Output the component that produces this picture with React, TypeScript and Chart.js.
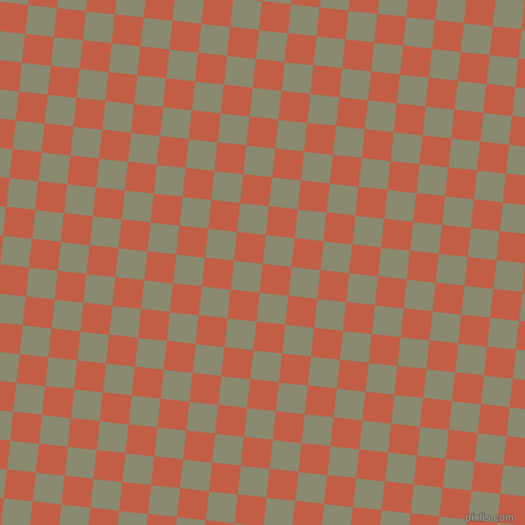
import React, { useEffect, useRef } from "react";
import Chart from "chart.js/auto";

// checkerboard lattice: column / row indices of every cell
const columns = [-2, -1, 0, 1, 2, 3, 4, 5, 6, 7, 8, 9, 10, 11, 12, 13, 14, 15, 16, 17, 18, 19, 20, 21];
const rows = [-4, -3, -2, -1, 0, 1, 2, 3, 4, 5, 6, 7, 8, 9, 10, 11, 12, 13, 14, 15, 16, 17, 18, 19];
// parity 0 = even cells, parity 1 = odd cells
const seriesNames = ["even", "odd"];
const seriesColors = ["#c25e46", "#898a70"];
const tiltDegrees = 6.2;
const watermark = "pixlis.com";

const CELL = 29; // px per lattice unit
const CANVAS = 645;
const OFFSET = 60; // canvas is larger than the view so the tilted grid covers it
const X_MIN = -1.633;
const Y_MIN = -3.666;

const cellsFor = (parity: number) => {
  const pts: { x: number; y: number }[] = [];
  rows.forEach((r) => {
    columns.forEach((c) => {
      if ((((c + r) % 2) + 2) % 2 === parity) pts.push({ x: c, y: r });
    });
  });
  return pts;
};

const tiltPlugin = {
  id: "tilt",
  beforeDraw(chart: any) {
    const { ctx, width, height } = chart;
    ctx.save();
    ctx.fillStyle = seriesColors[1];
    ctx.fillRect(0, 0, width, height);
    ctx.restore();
  },
  beforeDatasetsDraw(chart: any) {
    const { ctx, chartArea } = chart;
    const cx = (chartArea.left + chartArea.right) / 2;
    const cy = (chartArea.top + chartArea.bottom) / 2;
    ctx.save();
    ctx.translate(cx, cy);
    ctx.rotate((tiltDegrees * Math.PI) / 180);
    ctx.translate(-cx, -cy);
  },
  afterDatasetsDraw(chart: any) {
    chart.ctx.restore();
  },
  afterDraw(chart: any) {
    const { ctx } = chart;
    ctx.save();
    ctx.font = "bold 10px 'Liberation Sans Narrow', 'Liberation Sans', sans-serif";
    ctx.textAlign = "right";
    ctx.textBaseline = "alphabetic";
    ctx.lineWidth = 1;
    ctx.strokeStyle = "rgba(60,60,60,0.55)";
    ctx.fillStyle = "rgba(170,170,160,0.7)";
    ctx.strokeText(watermark, OFFSET + 514, OFFSET + 521);
    ctx.fillText(watermark, OFFSET + 514, OFFSET + 521);
    ctx.restore();
  },
};

export default function App() {
  const canvasRef = useRef<HTMLCanvasElement>(null);
  const chartRef = useRef<Chart | null>(null);

  useEffect(() => {
    if (!canvasRef.current) return;
    if (chartRef.current) chartRef.current.destroy();

    const ctx = canvasRef.current.getContext("2d");
    if (!ctx) return;

    chartRef.current = new Chart(ctx, {
      type: "scatter",
      data: {
        datasets: seriesNames.map((name, i) => ({
          label: name,
          data: cellsFor(i),
          backgroundColor: seriesColors[i],
          borderWidth: 0,
          pointStyle: "rect",
          pointRadius: CELL / Math.SQRT2 + 0.15,
          pointHoverRadius: CELL / Math.SQRT2 + 0.15,
          clip: false,
        })),
      },
      options: {
        responsive: true,
        maintainAspectRatio: false,
        animation: false,
        events: [],
        layout: { padding: 0, autoPadding: false },
        plugins: { legend: { display: false }, tooltip: { enabled: false } },
        scales: {
          x: { type: "linear", display: false, min: X_MIN, max: X_MIN + CANVAS / CELL },
          y: { type: "linear", display: false, reverse: true, min: Y_MIN, max: Y_MIN + CANVAS / CELL },
        },
      },
      plugins: [tiltPlugin],
    } as any);

    return () => {
      if (chartRef.current) {
        chartRef.current.destroy();
        chartRef.current = null;
      }
    };
  }, []);

  return (
    <div style={{ position: "fixed", left: 0, top: 0, width: 525, height: 525, overflow: "hidden" }}>
      <div style={{ position: "absolute", left: -OFFSET, top: -OFFSET, width: CANVAS, height: CANVAS }}>
        <canvas ref={canvasRef}></canvas>
      </div>
    </div>
  );
}
